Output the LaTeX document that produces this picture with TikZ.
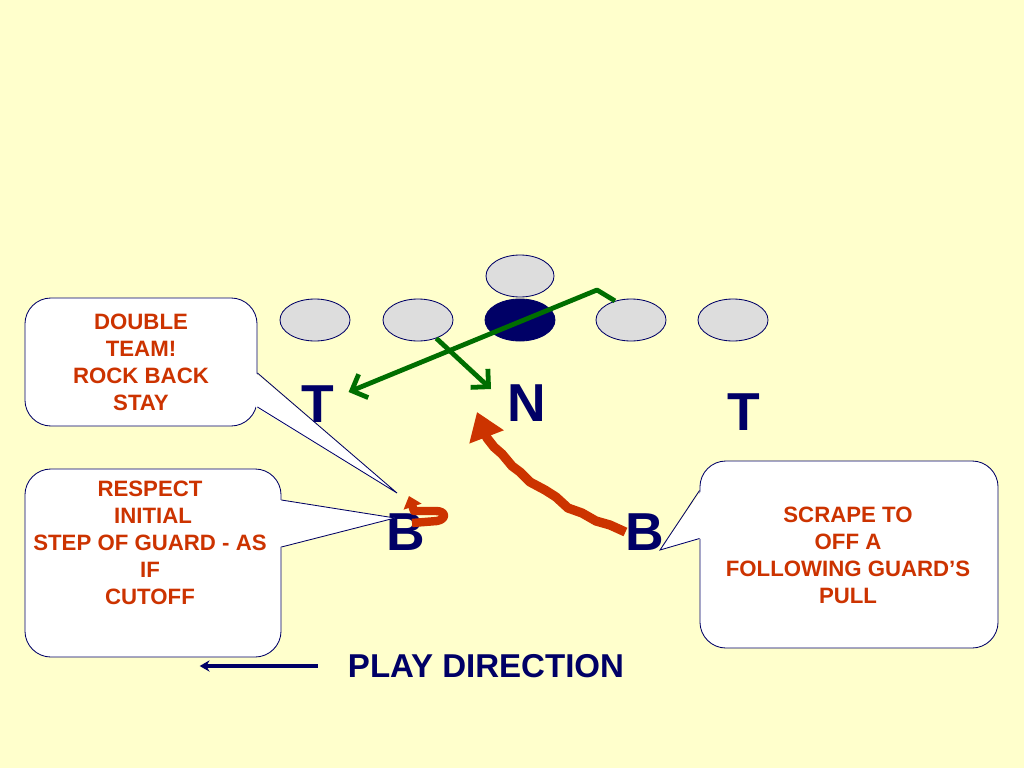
\documentclass[tikz,border=0pt]{standalone}
\usepackage{fontspec}
\setmainfont{Liberation Sans}
\usetikzlibrary{shapes.geometric,arrows.meta,calc}
\definecolor{slidebg}{HTML}{FFFFCC}
\definecolor{navy}{HTML}{000066}
\definecolor{notered}{HTML}{CC3300}
\definecolor{blockgreen}{HTML}{006E00}
\definecolor{playergray}{HTML}{DDDDDD}

\begin{document}
\begin{tikzpicture}[x=0.025cm, y=-0.025cm,
  player/.style={ellipse, draw=navy, line width=0.6pt, fill=playergray,
    minimum width=1.75cm, minimum height=1.05cm, inner sep=0pt},
  defender/.style={text=navy, font=\fontsize{38}{40}\selectfont\bfseries, inner sep=0pt},
  notebox/.style={draw=navy, line width=0.6pt, fill=white, rounded corners=0.65cm},
  notetext/.style={text=notered, align=center, font=\fontsize{15.8}{19.2}\selectfont\bfseries},
  block/.style={blockgreen, line width=3.4pt, -{Straight Barb[length=9pt,width=18pt]}},
  scrape/.style={notered, line width=6.6pt, line join=round}]
  % Background (fixes the page size too)
  \fill[slidebg] (0,0) rectangle (1024,768);
  \useasboundingbox (0,0) rectangle (1024,768);
  % Offensive line
  \node[player] (lt) at (315,320) {};
  \node[player] (lg) at (418,320) {};
  \node[player, fill=navy] (c) at (520,320) {};
  \node[player] (rg) at (631,320) {};
  \node[player] (rt) at (733,320) {};
  \node[player, minimum width=1.7cm] (qb) at (520,276) {};
  % Defenders
  \node[defender] (tl) at (318,404) {T};
  \node[defender] (n) at (527,403) {N};
  \node[defender] (tr) at (744,412) {T};
  \node[defender] (bl) at (406,532) {B};
  \node[defender] (br) at (645,532) {B};
  % Blocks
  \coordinate (bend) at (597,290);
  \coordinate (ntip) at (491,389);
  \draw[block, line join=round] (rg.130) -- (bend) -- ($(tl.east)+(14,-12)$);
  \draw[block] (lg.-45) -- (ntip);
  % Linebacker paths
  \draw[scrape, -{Triangle[length=19pt,width=25pt]}]
    (br.west) -- (610,525) -- (596,521) -- (582,513) -- (568,508) -- (556,497)
    -- (545,490) -- (530,482) -- (520,472) -- (512,466) -- (502,454)
    -- (494,447) -- (487,438) -- (477,412);
  \draw[scrape, line width=6pt, -{Triangle[length=8pt,width=13pt]}]
    (412,523) -- (437,521) .. controls (447,519) and (446,511) .. (436,511)
    -- (414,511) -- (409,496);
  % Notes
  \node[notebox, minimum width=5.8cm, minimum height=3.2cm] (box1) at (141,362) {};
  \node[notebox, minimum width=6.4cm, minimum height=4.7cm] (box2) at (153,563) {};
  \node[notebox, minimum width=7.45cm, minimum height=4.675cm] (box3) at (849,554.5) {};
  \coordinate (tip1) at (397,493);
  \coordinate (tip2) at (395,518);
  \coordinate (tip3) at (660,550);
  \fill[white] ($(box1.east)+(-2,11)$) -- (tip1) -- ($(box1.east)+(-2,45)$) -- cycle;
  \draw[navy, line width=0.6pt] ($(box1.east)+(0,11)$) -- (tip1) -- ($(box1.east)+(0,45)$);
  \fill[white] ($(box2.east)+(-2,-63)$) -- (tip2) -- ($(box2.east)+(-2,-16)$) -- cycle;
  \draw[navy, line width=0.6pt] ($(box2.east)+(0,-63)$) -- (tip2) -- ($(box2.east)+(0,-16)$);
  \fill[white] ($(box3.west)+(2,-64)$) -- (tip3) -- ($(box3.west)+(2,-16)$) -- cycle;
  \draw[navy, line width=0.6pt] ($(box3.west)+(0,-64)$) -- (tip3) -- ($(box3.west)+(0,-16)$);
  \node[notetext] (note1) at (141,362) {DOUBLE\\TEAM!\\ROCK BACK\\STAY};
  \node[notetext] (note2) at (150,543) {RESPECT\\\ INITIAL\\STEP OF GUARD - AS\\IF\\CUTOFF};
  \node[notetext] (note3) at (848,555) {SCRAPE TO\\OFF A\\FOLLOWING GUARD’S\\PULL};
  % Play direction
  \node[text=navy, font=\fontsize{23.5}{25}\selectfont\bfseries, inner sep=0pt]
    (play) at (486,666) {PLAY DIRECTION};
  \draw[navy, line width=2.4pt, -{Stealth[length=7pt,width=8pt]}, shorten <=0.75cm]
    (play.west) -- ++(-148,0);
\end{tikzpicture}
\end{document}
